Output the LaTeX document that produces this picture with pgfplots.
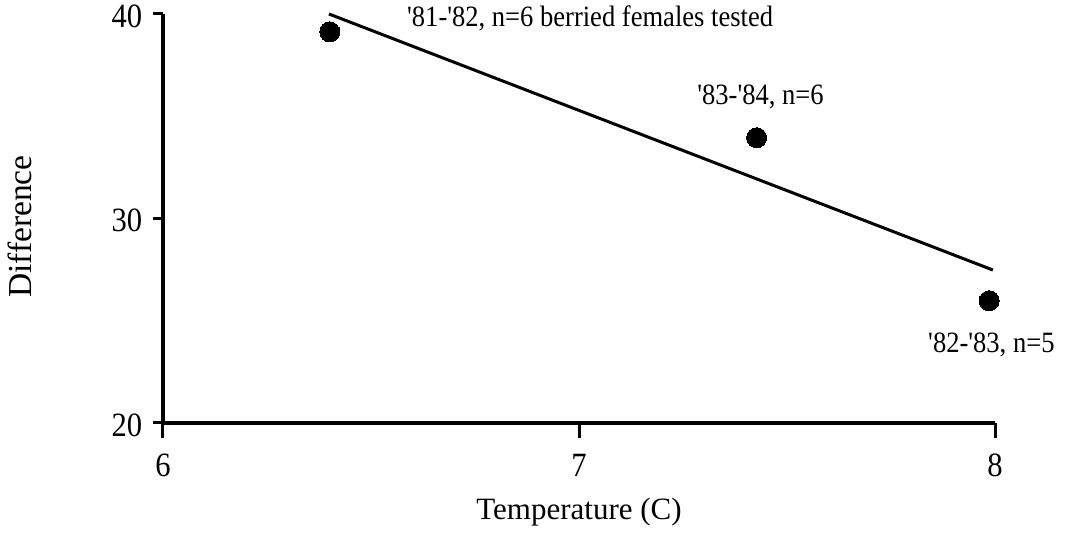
\documentclass[border=0pt]{standalone}
\usepackage{fontspec}
\setmainfont{Liberation Serif}
% narrower cut of the same face for numbers and point notes, straight quotes kept
\newfontfamily\narrowserif{Liberation Serif}[FakeStretch=0.9, Ligatures=TeXOff]
\usepackage{pgfplots}
\pgfplotsset{compat=1.18}

% Mean difference per season against water temperature
\pgfplotstableread{
temp  diff
6.401 39.13
7.427 33.95
7.986 25.98
}\seasons

% Fitted trend line
\pgfplotstableread{
temp  diff
6.399 40.00
7.995 27.48
}\trend

\begin{document}
\begin{tikzpicture}
\path[use as bounding box] (0,0) rectangle (1069pt,534pt);
\begin{axis}[
  at={(163pt,111pt)}, anchor=south west,
  scale only axis, width=832pt, height=409pt,
  xmin=6, xmax=8, ymin=20, ymax=40,
  axis lines*=left,
  axis line style={line width=3.5pt, black},
  xtick={6,7,8}, ytick={20,30,40},
  tick align=outside,
  tick style={line width=3pt, black},
  x tick style={/pgfplots/major tick length=15pt},
  y tick style={/pgfplots/major tick length=10pt},
  /pgf/number format/assume math mode=true,
  ticklabel style={font=\narrowserif\fontsize{34}{38}\selectfont},
  xticklabel style={anchor=base, yshift=-49pt},
  yticklabel style={anchor=east, xshift=-13pt, yshift=-2pt},
  xlabel={Temperature (C)},
  ylabel={Difference},
  xlabel style={font=\fontsize{31}{36}\selectfont,
    at={(axis description cs:0.5,-0.237)}, anchor=base},
  ylabel style={font=\fontsize{33.5}{38}\selectfont,
    at={(axis description cs:-0.1575,0.48)}, anchor=base, rotate=0},
  clip=false,
]
\addplot[black, line width=3pt] table[x=temp, y=diff] {\trend};
\addplot[only marks, mark=*, mark size=10pt, black, mark options={line width=0pt}]
  table[x=temp, y=diff] {\seasons};
\node[anchor=base west, inner sep=0pt, font=\narrowserif\fontsize{29.5}{34}\selectfont]
  at (axis cs:6.5865,39.41) {'81-'82, n=6 berried females tested};
\node[anchor=base west, inner sep=0pt, font=\narrowserif\fontsize{29.5}{34}\selectfont]
  at (axis cs:7.284,35.55) {'83-'84, n=6};
\node[anchor=base west, inner sep=0pt, font=\narrowserif\fontsize{29.5}{34}\selectfont]
  at (axis cs:7.839,23.47) {'82-'83, n=5};
\end{axis}
\end{tikzpicture}
\end{document}
